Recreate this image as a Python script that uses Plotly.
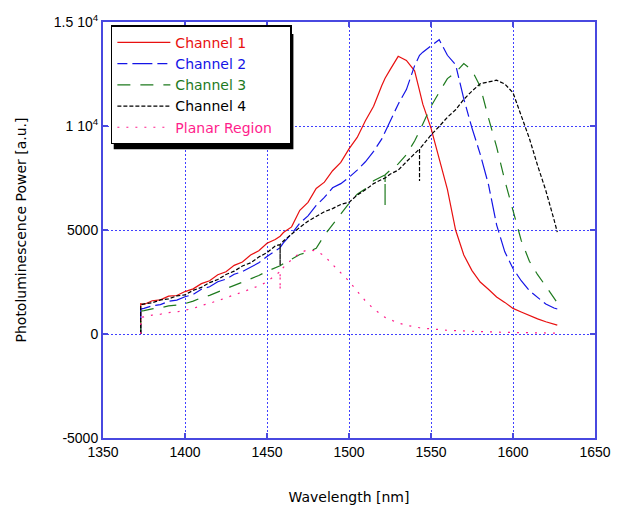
import plotly.graph_objects as go

# ---------------- data ----------------
wavelength = [1373, 1373, 1375, 1380, 1385, 1390, 1395, 1400, 1405, 1410, 1415, 1420,
              1425, 1430, 1435, 1440, 1445, 1450, 1455, 1458, 1458, 1458, 1460, 1465,
              1470, 1475, 1480, 1485, 1490, 1495, 1500, 1505, 1510, 1515, 1520, 1522,
              1522, 1522, 1525, 1530, 1535, 1540, 1543, 1543, 1543, 1545, 1550, 1555,
              1560, 1565, 1570, 1575, 1580, 1585, 1590, 1595, 1600, 1605, 1610, 1615,
              1620, 1625, 1627]

channel1 = [0, 1450, 1420, 1600, 1640, 1820, 1850, 2040, 2170, 2420, 2560, 2850,
            2990, 3300, 3460, 3800, 4000, 4360, 4540, 4700, 4700, 4700, 4880, 5150,
            5950, 6330, 7000, 7300, 7850, 8250, 8900, 9450, 10250, 10950, 11950, 12300,
            12300, 12300, 12700, 13350, 13150, 12650, 11700, 11700, 11700, 11050, 9900, 8450,
            6950, 5000, 3800, 3050, 2500, 2150, 1780, 1520, 1230, 1060, 880, 730,
            590, 470, 430]

channel2 = [0, 1200, 1230, 1360, 1410, 1570, 1630, 1790, 1900, 2150, 2270, 2510,
            2640, 2870, 3000, 3230, 3420, 3730, 3980, 4150, 4150, 4150, 4380, 4820,
            5330, 5680, 6180, 6570, 7030, 7230, 7530, 7880, 8280, 8780, 9380, 9700,
            9700, 9700, 10200, 11050, 11750, 12900, 13400, 13400, 13400, 13550, 13850, 14150,
            13400, 12950, 11300, 9900, 8650, 7200, 5250, 3950, 3150, 2560, 2080, 1760,
            1440, 1250, 1200]

channel3 = [0, 1100, 1120, 1210, 1260, 1350, 1390, 1460, 1580, 1750, 1860, 2020,
            2150, 2340, 2470, 2660, 2810, 3020, 3170, 3280, 3280, 3280, 3380, 3590,
            3820, 3940, 4120, 4750, 5280, 5780, 6280, 6720, 6980, 7370, 7580, 7650,
            6150, 7650, 7870, 8180, 8620, 9280, 9750, 9750, 9750, 10100, 10950, 11620,
            12280, 12580, 13000, 12680, 11900, 10400, 9000, 7380, 5900, 4500, 3500, 2850,
            2300, 1700, 1500]

channel4 = [0, 1400, 1450, 1500, 1640, 1690, 1830, 1880, 2100, 2240, 2470, 2620,
            2860, 3020, 3270, 3420, 3700, 3910, 4230, 4300, 3300, 4300, 4470, 4820,
            5130, 5420, 5630, 5880, 6030, 6230, 6330, 6680, 6930, 7230, 7430, 7500,
            7500, 7500, 7680, 7880, 8280, 8680, 8900, 7350, 8900, 9080, 9570, 9980,
            10420, 10780, 11280, 11680, 12030, 12120, 12200, 12020, 11600, 10500, 9400, 8100,
            6900, 5500, 4900]

planar = [0, 800, 820, 910, 950, 1030, 1060, 1130, 1230, 1370, 1470, 1610,
          1730, 1890, 2010, 2170, 2310, 2510, 2790, 3000, 2100, 3000, 3200, 3580,
          3900, 4060, 3990, 3760, 3340, 2960, 2540, 2060, 1590, 1210, 890, 800,
          800, 800, 700, 530, 420, 330, 300, 300, 300, 280, 240, 210,
          180, 160, 140, 120, 110, 100, 90, 80, 70, 60, 55, 50,
          45, 40, 40]

series_names = ["Channel 1", "Channel 2", "Channel 3", "Channel 4", "Planar Region"]
series_values = [channel1, channel2, channel3, channel4, planar]
series_colors = ["#E81010", "#1414E6", "#1E7A1E", "#000000", "#FF1E8C"]
series_dash = ["solid", "10px,5px,20px,5px", "13px,10px", "4px,2px", "2px,7px"]

y_tickvals = [-5000, 0, 5000, 10000, 15000]
y_ticktext = ["-5000", "0", "5000", "1 10<sup>4</sup>", "1.5 10<sup>4</sup>"]
x_tickvals = [1350, 1400, 1450, 1500, 1550, 1600, 1650]

frame_color = "#4848E0"
tick_font = "Arial, Liberation Sans, sans-serif"
text_font = "DejaVu Sans, sans-serif"

fig = go.Figure()
for name, vals, col, dash in zip(series_names, series_values, series_colors, series_dash):
    # trailing no-break spaces widen the legend box to the reference width
    label = f"<span style='color:{col}'>{name}</span>" + ("\u00a0" * 3 if name == "Planar Region" else "")
    fig.add_trace(go.Scatter(
        x=wavelength, y=vals, mode="lines", name=label,
        line=dict(color=col, width=1.2, dash=dash),
    ))

# legend drop shadow (offset ~4px right/down of the legend box)
fig.add_shape(type="rect", xref="paper", yref="paper",
              x0=0.0218, x1=0.387, y0=0.694, y1=0.971,
              fillcolor="black", line=dict(width=0), layer="above")

axis_common = dict(
    showline=True, linecolor=frame_color, linewidth=2, mirror="ticks",
    ticks="inside", ticklen=5, tickcolor=frame_color, tickwidth=2,
    showgrid=True, gridcolor="#4040FF", gridwidth=1, griddash="2px,2px",
    zeroline=False,
    tickfont=dict(family=tick_font, size=14, color="black"),
)

fig.update_xaxes(range=[1350, 1650], tickvals=x_tickvals,
                 title=dict(text="Wavelength [nm]", font=dict(family=text_font, size=14, color="black"),
                            standoff=33),
                 **axis_common)
fig.update_yaxes(range=[-5000, 15000], tickvals=y_tickvals, ticktext=y_ticktext,
                 title=dict(text="Photoluminescence Power [a.u.]",
                            font=dict(family=text_font, size=14, color="black"), standoff=24),
                 **axis_common)

fig.update_layout(
    width=623, height=515,
    margin=dict(l=103, r=16, t=20, b=77),
    plot_bgcolor="white", paper_bgcolor="white",
    showlegend=True,
    legend=dict(x=0.016, y=0.992, xanchor="left", yanchor="top",
                bgcolor="white", bordercolor="black", borderwidth=1.5,
                font=dict(family=text_font, size=14, color="black"),
                tracegroupgap=0, itemwidth=53),
)

fig.write_html("out.html")
